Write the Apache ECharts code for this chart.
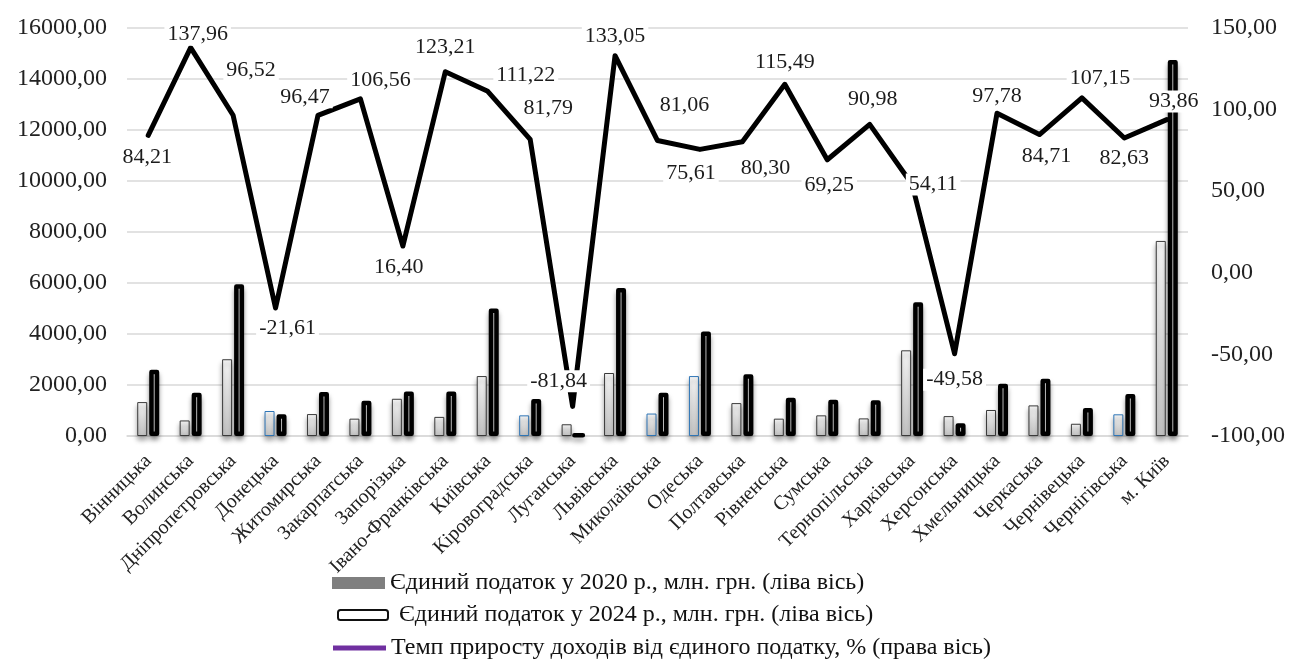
<!DOCTYPE html>
<html>
<head>
<meta charset="utf-8">
<script src="https://cdn.jsdelivr.net/npm/echarts@6/dist/echarts.min.js"></script>
<style>
  html, body { margin: 0; padding: 0; background: #ffffff; }
  #chart { width: 1295px; height: 659px; }
</style>
</head>
<body>
<div id="chart"></div>
<script>
// Regions of Ukraine
const regions = [
  'Вінницька', 'Волинська', 'Дніпропетровська', 'Донецька', 'Житомирська',
  'Закарпатська', 'Запорізька', 'Івано-Франківська', 'Київська', 'Кіровоградська',
  'Луганська', 'Львівська', 'Миколаївська', 'Одеська', 'Полтавська',
  'Рівненська', 'Сумська', 'Тернопільська', 'Харківська', 'Херсонська',
  'Хмельницька', 'Черкаська', 'Чернівецька', 'Чернігівська', 'м. Київ'
];

// Single tax revenue, mln UAH
const tax2020 = [
  1330, 610, 3010, 980, 860,
  680, 1460, 750, 2350, 810,
  460, 2470, 880, 2350, 1290,
  680, 810, 690, 3360, 780,
  1020, 1200, 480, 850, 7650
];
const tax2024 = [
  2600, 1700, 5950, 850, 1730,
  1380, 1750, 1750, 5000, 1450,
  60, 5800, 1700, 4100, 2420,
  1500, 1420, 1400, 5250, 500,
  2050, 2250, 1100, 1650, 14750
];

// Growth rate of single tax revenue, %
const growthRate = [
  84.21, 137.96, 96.52, -21.61, 96.47,
  106.56, 16.40, 123.21, 111.22, 81.79,
  -81.84, 133.05, 81.06, 75.61, 80.30,
  115.49, 69.25, 90.98, 54.11, -49.58,
  97.78, 84.71, 107.15, 82.63, 93.86
];

// Axis ranges
const leftAxis = { min: 0, max: 16000, step: 2000 };
const rightAxis = { min: -100, max: 150, step: 50 };

const seriesNames = [
  'Єдиний податок у 2020 р., млн. грн. (ліва вісь)',
  'Єдиний податок у 2024 р., млн. грн. (ліва вісь)',
  'Темп приросту доходів від єдиного податку, % (права вісь)'
];

// label placement of each growth-rate value around its point (px)
const labelShift = [
  [-1, 22], [7, -13], [18, -45], [12, 20], [-13, -18],
  [20, -19], [-4, 21], [0, -25], [38, -16], [18, -31],
  [-14, -25], [0, -19], [27, -35], [-9, 24], [23, 26],
  [0, -22], [2, 25], [3, -25], [21, 0], [0, 26],
  [0, -17], [7, 22], [18, -20], [0, 20], [7, -18]
];

// 2020 bars drawn with a blue outline
const blueEdged = ['Донецька', 'Кіровоградська', 'Миколаївська', 'Одеська', 'Чернігівська'];

const FONT = 'Liberation Serif';
const fmt = v => Number(v).toFixed(2).replace('.', ',');

const greyFill = {
  type: 'linear', x: 0, y: 0, x2: 0, y2: 1,
  colorStops: [{ offset: 0, color: '#f8f8f8' }, { offset: 1, color: '#c4c4c4' }]
};

const bar2020Data = tax2020.map((v, i) => ({
  value: v,
  itemStyle: blueEdged.includes(regions[i]) ? { borderColor: '#2e75b6' } : undefined
}));

const lineData = growthRate.map((v, i) => ({
  value: v,
  label: { offset: labelShift[i] }
}));

const chart = echarts.init(document.getElementById('chart'), null, { renderer: 'canvas' });

const legendText = { fontFamily: FONT, fontSize: 24, color: '#111' };

chart.setOption({
  animation: false,
  backgroundColor: '#ffffff',
  textStyle: { fontFamily: FONT },
  grid: { left: 127, right: 107, top: 28, bottom: 223, containLabel: false },
  legend: [
    {
      left: 327, top: 566, selectedMode: false,
      itemWidth: 53, itemHeight: 12, itemGap: 0,
      textStyle: legendText,
      data: [{ name: seriesNames[0], icon: 'rect',
        itemStyle: { color: '#7f7f7f', borderWidth: 0 } }]
    },
    {
      left: 332, top: 598, selectedMode: false,
      itemWidth: 50, itemHeight: 10, itemGap: 0,
      textStyle: Object.assign({ padding: [0, 0, 0, 6] }, legendText),
      data: [{ name: seriesNames[1], icon: 'roundRect',
        itemStyle: { color: '#ffffff', borderColor: '#111', borderWidth: 2 } }]
    },
    {
      left: 328, top: 631, selectedMode: false,
      itemWidth: 53, itemHeight: 5, itemGap: 0,
      textStyle: legendText,
      data: [{ name: seriesNames[2], icon: 'rect',
        itemStyle: { color: '#7030a0', borderWidth: 0 },
        lineStyle: { color: '#7030a0' } }]
    }
  ],
  xAxis: {
    type: 'category',
    data: regions,
    axisLine: { show: true, lineStyle: { color: '#d9d9d9', width: 1.5 } },
    axisTick: { show: false },
    axisLabel: {
      rotate: 45, interval: 0, margin: 22,
      fontFamily: FONT, fontSize: 20, color: '#222'
    }
  },
  yAxis: [
    {
      type: 'value',
      min: leftAxis.min, max: leftAxis.max, interval: leftAxis.step,
      axisLine: { show: false }, axisTick: { show: false },
      splitLine: { lineStyle: { color: '#d9d9d9', width: 1.5 } },
      axisLabel: { formatter: fmt, margin: 20, fontFamily: FONT, fontSize: 24, color: '#222' }
    },
    {
      type: 'value',
      min: rightAxis.min, max: rightAxis.max, interval: rightAxis.step,
      axisLine: { show: false }, axisTick: { show: false },
      splitLine: { show: false },
      axisLabel: { formatter: fmt, margin: 23, fontFamily: FONT, fontSize: 24, color: '#222' }
    }
  ],
  series: [
    {
      name: seriesNames[0],
      type: 'bar',
      yAxisIndex: 0,
      barWidth: 10,
      barGap: '20%',
      z: 2,
      data: bar2020Data,
      itemStyle: {
        color: greyFill, borderColor: '#3a3a3a', borderWidth: 1,
        shadowColor: 'rgba(0,0,0,0.35)', shadowBlur: 5, shadowOffsetY: 4
      }
    },
    {
      name: seriesNames[1],
      type: 'bar',
      yAxisIndex: 0,
      barWidth: 10,
      z: 2,
      data: tax2024,
      itemStyle: {
        color: '#ffffff', borderColor: '#000000', borderWidth: 4.5, borderJoin: 'round',
        shadowColor: 'rgba(0,0,0,0.35)', shadowBlur: 5, shadowOffsetY: 4
      }
    },
    {
      name: seriesNames[2],
      type: 'line',
      yAxisIndex: 1,
      z: 5,
      symbol: 'circle',
      symbolSize: 0,
      showSymbol: true,
      lineStyle: { color: '#000000', width: 5, join: 'round', cap: 'round' },
      itemStyle: { color: '#000000' },
      data: lineData,
      label: {
        show: true,
        position: 'inside',
        formatter: p => fmt(p.value),
        fontFamily: FONT, fontSize: 22, color: '#1c1c1c',
        backgroundColor: '#ffffff',
        padding: [0, 3]
      }
    }
  ]
});
</script>
</body>
</html>
